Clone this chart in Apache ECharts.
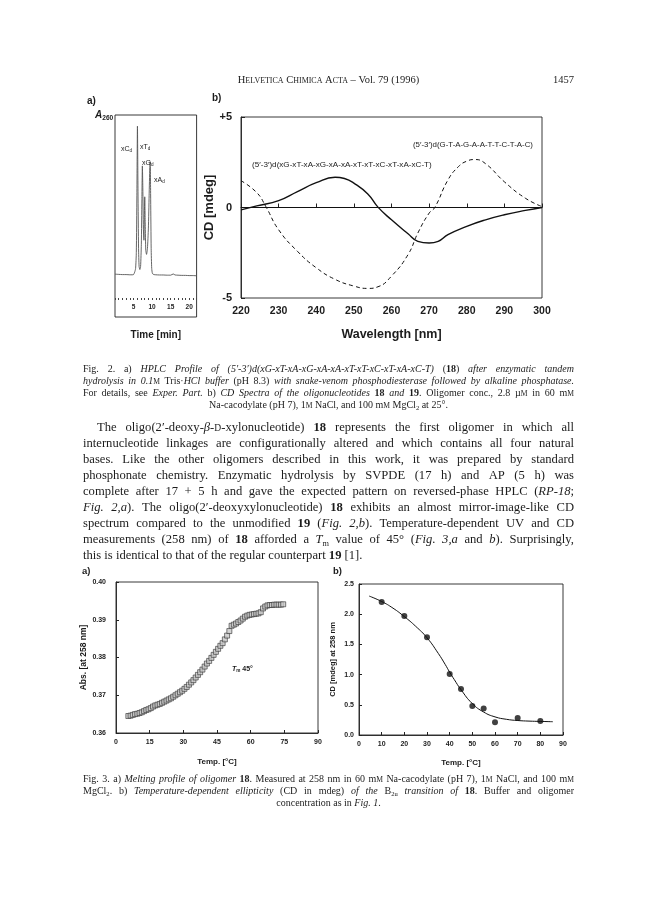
<!DOCTYPE html>
<html><head><meta charset="utf-8">
<script src="https://cdn.jsdelivr.net/npm/echarts@6/dist/echarts.min.js"></script>
<style>html,body{margin:0;padding:0;background:#fff}#c{width:648px;height:912px}</style>
</head><body><div id="c"></div>
<script>
// ---------- DATA ----------
// Fig. 2a HPLC trace (time in min, relative A260 in % of plot height)
const hplcTime = [0,1,2,3,4,4.6,5.0,5.3,5.55,5.75,5.9,6.05,6.2,6.35,6.5,6.7,6.9,7.1,7.25,7.38,7.5,7.65,7.8,7.9,8.02,8.15,8.3,8.5,8.75,9.0,9.2,9.38,9.5,9.62,9.75,9.9,10.1,10.5,11,12,13,14,15,15.7,16.2,17,18,19,20,21,22];
const hplcA260 = [21.2,21.1,21.0,21.0,20.9,20.9,21.0,22.2,24,32,60,94.5,62,34,25,23.5,25,36,58,74.8,64,44,38,48,59.5,46,33,31,34,44,60,74,76.9,58,34,24,21.5,21,20.9,20.8,20.8,20.7,20.7,21.3,20.8,20.7,20.6,20.6,20.5,20.5,20.4];
const hplcTickLabels = [5,10,15,20];
// Fig. 2b CD spectra
const wl18 = [220,224.2,230,235,240,245,247.5,250,253.7,256.4,260,264.4,267,270,272.4,275,280,285,290,295.6,300];
const cd18 = [-0.13,0.09,0.38,0.88,1.37,1.67,1.6,1.35,0.75,0.02,-0.68,-1.45,-1.87,-1.96,-1.87,-1.5,-1.04,-0.68,-0.40,-0.16,0];
const wl19 = [220,224.2,226.6,230,235,240,245,250,253.7,256.4,260,264.4,267,270,271.5,275,277.8,280,282.2,285,290,295.6,300];
const cd19 = [1.48,0.82,0.05,-1.23,-2.42,-3.33,-3.97,-4.34,-4.47,-4.38,-3.79,-2.6,-1.41,-0.31,0,1.52,2.26,2.56,2.65,2.42,1.42,0.51,0.05];
const label18 = '(5′-3′)d(xG-xT-xA-xG-xA-xA-xT-xT-xC-xT-xA-xC-T)';
const label19 = '(5′-3′)d(G-T-A-G-A-A-T-T-C-T-A-C)';
// Fig. 3a melting profile
const absT = [5.5,6.5,7.5,8.5,9.5,10.5,11.5,12.5,13.5,14.5,15.5,16.5,17.5,18.5,19.5,20.5,21.5,22.5,23.5,24.5,25.5,26.5,27.5,28.5,29.5,30.5,31.5,32.5,33.5,34.5,35.5,36.5,37.5,38.5,39.5,40.5,41.5,42.5,43.5,44.5,45.5,46.5,47.5,48.5,49.5,50.5,51.5,52.5,53.5,54.5,55.5,56.5,57.5,58.5,59.5,60.5,61.5,62.5,63.5,64.5,65.5,66.5,67.5,68.5,69.5,70.5,71.5,72.5,73.5,74.5];
const absVal = [.3645,.3646,.3648,.3650,.3651,.3653,.3655,.3658,.3661,.3663,.3666,.3670,.3673,.3675,.3677,.3680,.3683,.3686,.3689,.3692,.3696,.3700,.3704,.3708,.3712,.3717,.3722,.3728,.3734,.3740,.3747,.3754,.3761,.3768,.3776,.3784,.3791,.3799,.3807,.3815,.3823,.3831,.3838,.3848,.3858,.3870,.3884,.3887,.3890,.3894,.3898,.3903,.3908,.3911,.3913,.3914,.3915,.3916,.3917,.3920,.3930,.3935,.3938,.3939,.3939,.3940,.3940,.3940,.3940,.3941];
// Fig. 3b CD vs temperature
const meltT = [10,20,30,40,45,50,55,60,70,80];
const meltCD = [2.20,1.97,1.62,1.01,0.76,0.48,0.44,0.21,0.28,0.23];
const fitT = [4.5,10,15,20,25,30,35,38,40,42,45,50,55,60,65,70,75,80,85.5];
const fitCD = [2.30,2.21,2.10,1.96,1.80,1.61,1.35,1.17,1.04,0.92,0.75,0.52,0.38,0.30,0.26,0.24,0.23,0.225,0.22];

// ---------- TEXT ----------
const header = 'H%ELVETICA% C%HIMICA% A%CTA% – Vol. 79 (1996)';
const pageNo = '1457';
const cap2 = [
 'Fig. 2. a) _HPLC Profile of (5′-3′)d(xG-xT-xA-xG-xA-xA-xT-xT-xC-xT-xA-xC-T)_ (*18*) _after enzymatic tandem_',
 '_hydrolysis in 0.1_%M% Tris·_HCl buffer_ (pH 8.3) _with snake-venom phosphodiesterase followed by alkaline phosphatase._',
 'For details, see _Exper. Part._ b) _CD Spectra of the oligonucleotides_ *18* _and_ *19*. Oligomer conc., 2.8 µ%M% in 60 m%M%',
 'Na-cacodylate (pH 7), 1%M% NaCl, and 100 m%M% MgCl^2^ at 25°.'
];
const body = [
 'The oligo(2′-deoxy-_β_-%D%-xylonucleotide) *18* represents the first oligomer in which all',
 'internucleotide linkages are configurationally altered and which contains all four natural',
 'bases. Like the other oligomers described in this work, it was prepared by standard',
 'phosphonate chemistry. Enzymatic hydrolysis by SVPDE (17 h) and AP (5 h) was',
 'complete after 17 + 5 h and gave the expected pattern on reversed-phase HPLC (_RP-18_;',
 '_Fig. 2,a_). The oligo(2′-deoxyxylonucleotide) *18* exhibits an almost mirror-image-like CD',
 'spectrum compared to the unmodified *19* (_Fig. 2,b_). Temperature-dependent UV and CD',
 'measurements (258 nm) of *18* afforded a _T_^m^ value of 45° (_Fig. 3,a_ and _b_). Surprisingly,',
 'this is identical to that of the regular counterpart *19* [1].'
];
const cap3 = [
 'Fig. 3. a) _Melting profile of oligomer_ *18*. Measured at 258 nm in 60 m%M% Na-cacodylate (pH 7), 1%M% NaCl, and 100 m%M%',
 'MgCl^2^. b) _Temperature-dependent ellipticity_ (CD in mdeg) _of the_ B^2u^ _transition of_ *18*. Buffer and oligomer',
 'concentration as in _Fig. 1_.'
];

// ---------- text layout helpers ----------
const SERIF = 'Liberation Serif', SANS = 'Liberation Sans', INK = '#1c1c1c';
const G = [];
const ctx = document.createElement('canvas').getContext('2d');
function parse(str){
  const out=[]; let it=false,b=false,sc=false,sub=false,cur='';
  const push=()=>{ if(cur){ out.push({t:cur,it,b,sc,sub}); cur=''; } };
  for(const ch of str){
    if(ch==='_'){push();it=!it;} else if(ch==='*'){push();b=!b;}
    else if(ch==='%'){push();sc=!sc;} else if(ch==='^'){push();sub=!sub;}
    else cur+=ch;
  }
  push(); return out;
}
function toWords(pieces){
  const w=[[]];
  pieces.forEach(p=>{ p.t.split(' ').forEach((s,i)=>{ if(i>0) w.push([]); if(s) w[w.length-1].push(Object.assign({},p,{t:s})); }); });
  return w.filter(x=>x.length);
}
function pSize(p,base){ let s=base; if(p.sc) s*=0.76; if(p.sub) s*=0.66; return s; }
function fstr(p,s,fam){ return (p.it?'italic ':'')+(p.b?'bold ':'')+s+'px "'+fam+'"'; }
function pW(p,base,fam){ ctx.font=fstr(p,pSize(p,base),fam); return ctx.measureText(p.t).width; }
function emit(p,x,y,base,fam,color,sx){
  const s=pSize(p,base);
  let dy=0.32*(base-s); if(p.sub) dy+=0.2*base;
  G.push({type:'text',x:x,y:y+dy,scaleX:sx||1,silent:true,z:100,style:{text:p.t,fontSize:s,fontFamily:fam,
    fontStyle:p.it?'italic':'normal',fontWeight:p.b?'bold':'normal',fill:color||INK,
    align:'left',verticalAlign:'middle',textAlign:'left',textVerticalAlign:'middle'}});
}
function line(str,o){
  const fam=o.fam||SERIF; let size=o.size;
  let words=toWords(parse(str));
  const widths=()=>words.map(w=>w.reduce((a,p)=>a+pW(p,size,fam),0));
  let ww=widths(); let sum=ww.reduce((a,b)=>a+b,0);
  ctx.font=size+'px "'+fam+'"'; let sp=ctx.measureText(' ').width;
  const indent=o.indent||0;
  let x, gap, sx=1;
  if(o.mode==='fit'){
    const nat=sum+sp*(words.length-1); size=size*(o.x1-o.x0)/nat;
    ww=widths(); sum=ww.reduce((a,b)=>a+b,0); ctx.font=size+'px "'+fam+'"'; sp=ctx.measureText(' ').width;
    x=o.x0; gap=sp;
  } else if(o.mode==='justify'){
    const avail=o.x1-o.x0-indent, n=Math.max(1,words.length-1);
    const minGap=sp*0.75;
    if(sum+minGap*n>avail){ sx=(avail-minGap*n)/sum; }
    x=o.x0+indent; gap=(avail-sum*sx)/n;
  } else if(o.mode==='center'){
    const tot=sum+sp*(words.length-1); x=(o.x0+o.x1)/2-tot/2; gap=sp;
  } else if(o.mode==='right'){
    const tot=sum+sp*(words.length-1); x=o.x1-tot; gap=sp;
  } else { x=o.x0+indent; gap=sp; }
  words.forEach((w,i)=>{
    let cx=x;
    w.forEach(p=>{ emit(p,cx,o.y,size,fam,o.color,sx); cx+=pW(p,size,fam)*sx; });
    x+=ww[i]*sx+gap;
  });
}
const COL0=83, COL1=574;
// header
line(header,{x0:COL0,x1:COL1,y:80,size:10.5,mode:'center'});
line(pageNo,{x0:COL0,x1:COL1,y:80,size:10.5,mode:'right'});
// figure letters
line('*a)*',{x0:87,y:101,size:10,fam:SANS,mode:'left'});
line('*b)*',{x0:212,y:98,size:10,fam:SANS,mode:'left'});
line('*_A_^260^*',{x0:95,y:115,size:10,fam:SANS,mode:'left'});
line('xC^d^',{x0:121,y:149,size:7,fam:SANS,mode:'left'});
line('xT^d^',{x0:140,y:147,size:7,fam:SANS,mode:'left'});
line('xG^d^',{x0:142,y:163,size:7,fam:SANS,mode:'left'});
line('xA^d^',{x0:154,y:180,size:7,fam:SANS,mode:'left'});
line(label19,{x0:413,x1:533,y:145,size:8,fam:SANS,mode:'fit'});
line(label18,{x0:252,x1:432,y:165,size:8,fam:SANS,mode:'fit'});
// Fig 2 caption
cap2.forEach((s,i)=>line(s,{x0:COL0,x1:COL1,y:369+i*12,size:10,mode:i===3?'center':'justify'}));
// body
body.forEach((s,i)=>line(s,{x0:COL0,x1:COL1,y:428+i*16,size:12.6,mode:i===8?'left':'justify',indent:i===0?14:0}));
// Fig 3 letters
line('*a)*',{x0:82,y:571,size:9.5,fam:SANS,mode:'left'});
line('*b)*',{x0:333,y:571,size:9.5,fam:SANS,mode:'left'});
line('*_T_^m^ 45°*',{x0:232,y:669,size:7,fam:SANS,mode:'left'});
// Fig 3 caption
cap3.forEach((s,i)=>line(s,{x0:COL0,x1:COL1,y:779+i*12,size:10,mode:i===2?'center':'justify'}));

// ---------- CHART ----------
const zip=(a,b)=>a.map((v,i)=>[v,b[i]]);
const lblBold=(s)=>({fontFamily:SANS,fontWeight:'bold',fontSize:s,color:INK});
const axLine={show:true,lineStyle:{color:'#222',width:0.9}};
const border={show:true,borderColor:'#222',borderWidth:0.9,backgroundColor:'transparent'};
const chart=echarts.init(document.getElementById('c'),null,{renderer:'canvas'});
chart.setOption({
  backgroundColor:'#fff', animation:false,
  grid:[
    Object.assign({left:115,top:115,width:81.6,height:202},border),
    {left:115,top:299,width:81.6,height:1},
    Object.assign({left:241,top:117,width:301,height:181},border),
    Object.assign({left:116,top:582,width:202,height:151},border),
    Object.assign({left:359,top:584,width:204,height:151},border)
  ],
  xAxis:[
    {gridIndex:0,type:'value',min:0,max:22,show:false},
    {gridIndex:1,type:'value',min:0,max:22,interval:1,axisLine:{show:false},
      axisTick:{show:true,inside:true,length:2,lineStyle:{color:'#444',width:1}},splitLine:{show:false},
      axisLabel:{margin:4,formatter:v=>hplcTickLabels.indexOf(v)>=0?String(v):'',...lblBold(6.5)},
      name:'Time [min]',nameLocation:'middle',nameGap:30,nameTextStyle:lblBold(10)},
    {gridIndex:2,type:'value',min:220,max:300,interval:10,axisLine:axLine,
      axisTick:{show:true,inside:true,length:4,lineStyle:{color:'#222'}},splitLine:{show:false},
      axisLabel:{margin:8,...lblBold(10.5)},
      name:'Wavelength [nm]',nameLocation:'middle',nameGap:30,nameTextStyle:lblBold(12.5)},
    {gridIndex:3,type:'value',min:0,max:90,interval:15,axisLine:axLine,
      axisTick:{show:true,inside:true,length:3,lineStyle:{color:'#222'}},splitLine:{show:false},
      axisLabel:{margin:6,...lblBold(7)},
      name:'Temp. [°C]',nameLocation:'middle',nameGap:25,nameTextStyle:lblBold(8)},
    {gridIndex:4,type:'value',min:0,max:90,interval:10,axisLine:axLine,
      axisTick:{show:true,inside:true,length:3,lineStyle:{color:'#222'}},splitLine:{show:false},
      axisLabel:{margin:6,...lblBold(7)},
      name:'Temp. [°C]',nameLocation:'middle',nameGap:24,nameTextStyle:lblBold(8)}
  ],
  yAxis:[
    {gridIndex:0,type:'value',min:0,max:100,show:false},
    {gridIndex:1,type:'value',min:0,max:1,show:false},
    {gridIndex:2,type:'value',min:-5,max:5,interval:5,axisLine:axLine,
      axisTick:{show:true,inside:true,length:4,lineStyle:{color:'#222'}},splitLine:{show:false},
      axisLabel:{margin:9,formatter:v=>v>0?'+'+v:String(v),...lblBold(11)},
      name:'CD [mdeg]',nameLocation:'middle',nameGap:22,nameRotate:90,nameTextStyle:lblBold(13)},
    {gridIndex:3,type:'value',min:0.36,max:0.40,interval:0.01,axisLine:axLine,
      axisTick:{show:true,inside:true,length:3,lineStyle:{color:'#222'}},splitLine:{show:false},
      axisLabel:{margin:10,formatter:v=>v.toFixed(2),...lblBold(7)},
      name:'Abs. [at 258 nm]',nameLocation:'middle',nameGap:23,nameRotate:90,nameTextStyle:lblBold(8.5)},
    {gridIndex:4,type:'value',min:0,max:2.5,interval:0.5,axisLine:axLine,
      axisTick:{show:true,inside:true,length:3,lineStyle:{color:'#222'}},splitLine:{show:false},
      axisLabel:{margin:5,formatter:v=>v.toFixed(1),...lblBold(7)},
      name:'CD [mdeg] at 258 nm',nameLocation:'middle',nameGap:22,nameRotate:90,nameTextStyle:lblBold(7.5)}
  ],
  series:[
    {type:'line',xAxisIndex:0,yAxisIndex:0,data:zip(hplcTime,hplcA260),showSymbol:false,smooth:0.2,
      lineStyle:{color:'#555',width:0.9}},
    {type:'line',xAxisIndex:2,yAxisIndex:2,data:zip(wl18,cd18),showSymbol:false,smooth:true,
      lineStyle:{color:'#111',width:1.4},
      markLine:{silent:true,symbol:'none',label:{show:false},lineStyle:{color:'#111',width:1,type:'solid'},data:[{yAxis:0}]}},
    {type:'line',xAxisIndex:2,yAxisIndex:2,data:zip(wl19,cd19),showSymbol:false,smooth:true,
      lineStyle:{color:'#111',width:1,type:[4,3]}},
    {type:'scatter',xAxisIndex:3,yAxisIndex:3,data:zip(absT,absVal),symbol:'rect',symbolSize:5,
      itemStyle:{color:'#c8c8c8',borderColor:'#333',borderWidth:0.8}},
    {type:'line',xAxisIndex:4,yAxisIndex:4,data:zip(fitT,fitCD),showSymbol:false,smooth:true,
      lineStyle:{color:'#111',width:1}},
    {type:'scatter',xAxisIndex:4,yAxisIndex:4,data:zip(meltT,meltCD),symbol:'circle',symbolSize:6,
      itemStyle:{color:'#111'}}
  ],
  graphic:{elements:G}
});
</script></body></html>
